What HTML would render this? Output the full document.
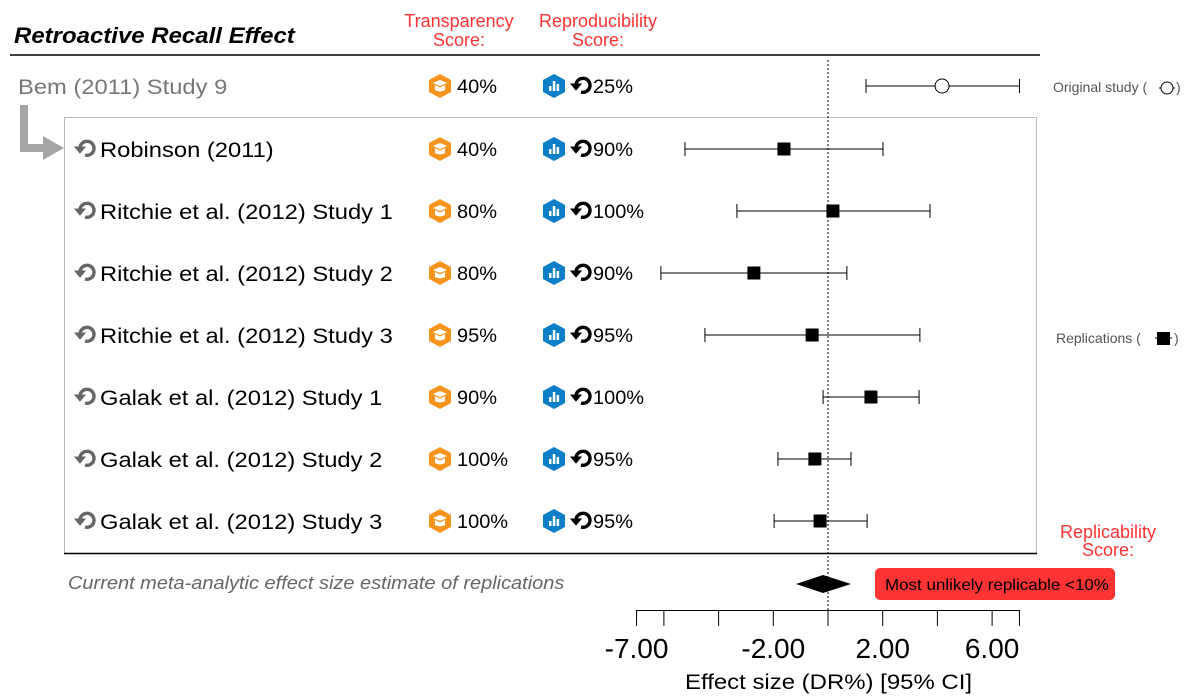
<!DOCTYPE html>
<html><head><meta charset="utf-8"><style>
html,body{margin:0;padding:0;background:#fff;}
svg{display:block;font-family:"Liberation Sans",Arial,sans-serif;}
</style></head><body>
<svg id="chart" width="1196" height="699" viewBox="0 0 1196 699">
<defs>
<g id="hexo"><polygon points="12,0 23,6 23,18 12,24 1,18 1,6" fill="#f7941d"/><path d="M5,9 L12,6 L19,9 L12,12 Z M7,11 L7,16 Q12,19 17,16 L17,11 L12,13.5 Z" fill="#fff"/></g>
<g id="hexb"><polygon points="12,0 23,6 23,18 12,24 1,18 1,6" fill="#0a7fc7"/><rect x="7" y="12" width="2.5" height="5" fill="#fff"/><rect x="10.8" y="7" width="2.5" height="10" fill="#fff"/><rect x="14.6" y="10" width="2.5" height="7" fill="#fff"/></g>
<g id="refresh"><path d="M5,9 A7,7 0 1 1 10,16" fill="none" stroke-width="3.4"/><polygon points="0,8 10,8 5,14"/></g>
</defs>
<text id="title" x="14" y="43" font-size="22" font-weight="bold" font-style="italic">Retroactive Recall Effect</text>
<g fill="#ff3333" font-size="18" text-anchor="middle">
<text x="459" y="27">Transparency</text>
<text x="459" y="46">Score:</text>
<text x="598" y="27">Reproducibility</text>
<text x="598" y="46">Score:</text>
<text x="1108" y="538">Replicability</text>
<text x="1108" y="556">Score:</text>
</g>
<line x1="10" y1="55" x2="1040" y2="55" stroke="#000" stroke-width="1.5"/>
<rect x="64.5" y="117.5" width="972" height="436" fill="none" stroke="#bbb"/>
<line x1="64" y1="553.5" x2="1037" y2="553.5" stroke="#000" stroke-width="1.5"/>
<path d="M20,105 H28 V144 H43 V136 L64,148 L43,160 V152 H20 Z" fill="#a6a6a6"/>
<line x1="828" y1="60" x2="828" y2="610" stroke="#000" stroke-dasharray="2,2"/>
<text x="1053" y="92" font-size="14" fill="#555">Original study (</text>
<text x="1176" y="92" font-size="14" fill="#555">)</text>
<g><line x1="1159" y1="88" x2="1175" y2="88" stroke="#000"/><circle cx="1167" cy="88" r="6" fill="#fff" stroke="#000"/></g>
<text x="1056" y="343" font-size="14" fill="#555">Replications (</text>
<text x="1174" y="343" font-size="14" fill="#555">)</text>
<g><line x1="1155" y1="338" x2="1172" y2="338" stroke="#000"/><rect x="1157" y="332" width="13" height="13" fill="#000"/></g>
<text id="metalab" x="68" y="589" font-size="18" font-style="italic" fill="#666">Current meta-analytic effect size estimate of replications</text>
<rect x="875" y="568" width="240" height="32" rx="5" fill="#ff3333"/>
<text id="badge" x="885" y="590" font-size="16">Most unlikely replicable &lt;10%</text>
<line x1="637" y1="610.5" x2="1019" y2="610.5" stroke="#000"/>
<text id="xtitle" x="685" y="689" font-size="21">Effect size (DR%) [95% CI]</text>
</svg>
<script>
const studies=["Bem (2011) Study 9","Robinson (2011)","Ritchie et al. (2012) Study 1","Ritchie et al. (2012) Study 2","Ritchie et al. (2012) Study 3","Galak et al. (2012) Study 1","Galak et al. (2012) Study 2","Galak et al. (2012) Study 3"];
const transparency=["40%","40%","80%","80%","95%","90%","100%","100%"];
const reproducibility=["25%","90%","100%","90%","95%","100%","95%","95%"];
const effect=[4.17,-1.61,0.18,-2.71,-0.58,1.57,-0.48,-0.29];
const ciLow=[1.39,-5.23,-3.33,-6.11,-4.5,-0.18,-1.83,-1.97];
const ciHigh=[7.0,2.01,3.73,0.69,3.36,3.33,0.84,1.43];
const metaEst=[-1.17,-0.18,0.84];
const tickValues=[-7,-6,-4,-2,0,2,4,6,7];
const tickLabels=["-7.00","-2.00","2.00","6.00"];
const tickLabelValues=[-7,-2,2,6];

const NS="http://www.w3.org/2000/svg";
const svg=document.getElementById('chart');
const xs=v=>828+v*27.35;
const rowY=i=>i===0?86:149+(i-1)*62;
function mk(tag,attrs,parent){const e=document.createElementNS(NS,tag);for(const k in attrs)e.setAttribute(k,attrs[k]);(parent||svg).appendChild(e);return e;}
function stretch(el,f){const w=el.getComputedTextLength();el.setAttribute('textLength',w*f);el.setAttribute('lengthAdjust','spacingAndGlyphs');}

tickValues.forEach(v=>{
 const t=mk('line',{x1:xs(v),x2:xs(v),y1:610,y2:626,stroke:'#000'});
 
 
});
tickLabelValues.forEach((v,i)=>{
 const t=mk('text',{x:xs(v),y:658,'font-size':28,'text-anchor':'middle'});t.textContent=tickLabels[i];
 
 
});

studies.forEach((s,i)=>{
 const y=rowY(i);const orig=i===0;
 const g=mk('g',{});
 
 
 if(!orig){mk('use',{href:'#refresh',x:75,y:y-10,fill:'#666',stroke:'#666'},g);}
 const lab=mk('text',{x:orig?18:100,y:y+8,'font-size':21,fill:orig?'#777':'#000'},g);lab.textContent=s;
 
 
 stretch(lab,1.13);
 mk('use',{href:'#hexo',x:428,y:y-12},g);
 const tt=mk('text',{x:457,y:y+7,'font-size':19},g);tt.textContent=transparency[i];
 
 
 stretch(tt,1.05);
 mk('use',{href:'#hexb',x:542,y:y-12},g);
 mk('use',{href:'#refresh',x:571,y:y-10,fill:'#000',stroke:'#000'},g);
 const rt=mk('text',{x:593,y:y+7,'font-size':19},g);rt.textContent=reproducibility[i];
 
 
 stretch(rt,1.05);
 const ci=mk('path',{d:`M${xs(ciLow[i])},${y} H${xs(ciHigh[i])} M${xs(ciLow[i])},${y-7} V${y+7} M${xs(ciHigh[i])},${y-7} V${y+7}`,stroke:'#000',fill:'none'},g);
 
 
 let p;
 if(orig){p=mk('circle',{cx:xs(effect[i]),cy:y,r:7,fill:'#fff',stroke:'#000'},g);}
 else{p=mk('rect',{x:xs(effect[i])-6.5,y:y-6.5,width:13,height:13,fill:'#000'},g);}
 
 
});
const d=mk('polygon',{points:`${xs(metaEst[0])},584 ${xs(metaEst[1])},575 ${xs(metaEst[2])},584 ${xs(metaEst[1])},593`,fill:'#000'});


stretch(document.getElementById('title'),1.09);
stretch(document.getElementById('metalab'),1.11);
stretch(document.getElementById('badge'),1.06);
document.getElementById('xtitle').setAttribute('textLength',287);
document.getElementById('xtitle').setAttribute('lengthAdjust','spacingAndGlyphs');
</script>
</body></html>
